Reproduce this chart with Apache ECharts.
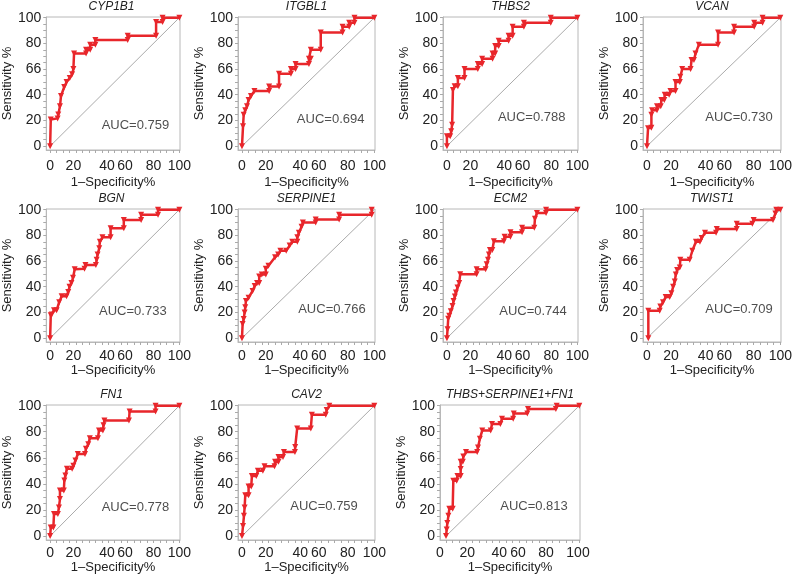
<!DOCTYPE html>
<html lang="en">
<head>
    <meta charset="UTF-8">
    <title>ROC curves</title>
    <script src="https://cdn.jsdelivr.net/npm/echarts@6/dist/echarts.min.js"></script>
    <style>
        html, body { margin: 0; padding: 0; background: #fff; }
        #chart { width: 795px; height: 575px; }
    </style>
</head>
<body>
<div id="chart"></div>
<script type="text/javascript">
    // panel names and AUC values
    var genes = ['CYP1B1', 'ITGBL1', 'THBS2', 'VCAN', 'BGN', 'SERPINE1', 'ECM2', 'TWIST1', 'FN1', 'CAV2', 'THBS+SERPINE1+FN1'];
    var aucValues = ['0.759', '0.694', '0.788', '0.730', '0.733', '0.766', '0.744', '0.709', '0.778', '0.759', '0.813'];

    // ROC vertices [1-specificity %, sensitivity %]
    var cyp1b1 = [[0,0],[0.5,20.8],[5.8,21.6],[6.3,24.7],[7.6,31],[8.4,39],[10.9,46],[12.7,50],[15.2,53],[17,56],[18,60],[18.5,72],
        [27.8,72],[27.8,75],[31,75],[31,79],[35,79],[35,82.6],[60,82.6],[60,86],[82,86],[82,96.6],[87,96.6],[87,100],[100,100]];
    var itgbl1 = [[0,0],[0.8,15.4],[1.3,24.4],[2.5,28],[3.8,31],[5,36],[6.8,39],[9.4,43],[20.5,43],[20.5,46.4],[28,46.4],[28,56.4],
        [37,56.4],[37,60],[40.5,60],[40.5,64],[50.6,64],[50.6,68],[52,68],[52,75],[59.5,75],[59.5,88.5],[76,88.5],[76,93],[81,93],
        [81,96],[85,96],[85,100],[100,100]];
    var thbs2 = [[0,0],[0,7.7],[2.5,7.7],[3.3,11.5],[4,16.7],[4.6,43.6],[5.9,46.7],[8.4,46.7],[8.4,53],[13.5,53],[13.5,60],[23.7,60],
        [23.7,64],[27,64],[27,68],[35,68],[35,72],[37,72],[37,78],[39.7,78],[39.7,82],[47.3,82],[47.3,86],[50.4,86],[50.4,93],[59,93],
        [59,96],[79.6,96],[79.6,100],[100,100]];
    var vcan = [[0,0],[0.8,14],[3.3,14.4],[3.3,24.4],[3.8,28],[7.5,28],[7.5,31],[10.3,31],[10.8,36],[13,36],[13.3,40],[16.6,40],
        [17.6,43],[21.4,43],[21.4,50],[24.6,50],[25,54],[26.4,60],[32.7,60],[33.4,67],[35.2,67],[36.4,72],[38.9,79],[53.3,79],
        [53.3,88.5],[65.3,88.5],[65.3,93],[80.4,93],[80.4,96],[86.7,96],[86.7,100],[100,100]];
    var bgn = [[0,0],[0.5,17.9],[1.3,18.4],[3,21.7],[5,21.7],[7,28],[8.9,32.6],[12.7,32.6],[14,36],[15,40],[16.5,43],[17.7,47],
        [19,53.6],[26.6,54],[27.3,57],[35.4,57],[36,61],[36.7,65],[38,70],[38.5,75],[40.5,78.6],[46.8,78.6],[46.8,85.5],[57,85.5],
        [57,92],[70.4,92],[70.4,96],[83.5,96],[83.5,100],[100,100]];
    var serpine1 = [[0,0],[0.5,11],[1.3,14.9],[2,20],[2.5,24],[3,29],[5,31.5],[8,36.7],[9.6,40.5],[11.4,43],[13,43],[13,48],[15,49.5],
        [18,49.5],[18,54],[20,56.4],[25,63],[27.3,65],[29,68],[33.4,68],[36,72],[38,75],[41.8,75],[41.8,78.5],[43,82],[45,86.7],
        [46,90],[55.7,90],[55.7,92.3],[73.4,92.3],[73.4,96],[98,96],[98,100]];
    var ecm2 = [[0,0],[0.5,7],[1,15],[1.8,17.5],[3,21],[4.3,25],[5.1,29],[6.1,32.5],[6.9,35.6],[8.1,39.4],[9.4,43],[10.2,49.7],
        [22.8,49.7],[22.8,53.6],[29.7,53.6],[30.5,57.5],[31.5,61],[32.2,65],[33,68.6],[34.8,68.6],[36,75.5],[43.7,75.5],[44.2,79],
        [48.7,79],[48.7,82.5],[57.6,82.5],[57.6,86],[67,86],[67.5,93],[69,97.4],[76,97.4],[76,100],[100,100]];
    var twist1 = [[1,0],[1,21.3],[9.5,21.3],[10,24.6],[12,28],[14,32],[17,32],[18.3,35],[19.6,40],[20.8,44],[21.6,49.5],[22.6,53],
        [24.6,55],[25,61],[32,61],[34,68],[36.7,75],[39.7,75],[41,78],[43.5,82],[51.8,82],[52.3,85],[67.3,85],[67.3,89],[79,89],
        [80,92],[94.5,92],[96.3,97],[97,100],[100,100]];
    var fn1 = [[0,0],[0.5,6.5],[2.5,6.5],[3,17],[6,17],[6.8,22],[7.6,28.4],[7.6,35],[10.6,35],[11,42.6],[11.8,46.5],[13,51.7],
        [17,51.7],[18,54],[19.6,58],[21.4,63],[27,63],[27.7,67],[29.5,70.5],[30.7,75],[37,75],[37.8,81],[40.8,81],[41.3,85],
        [42,88.6],[61,88.6],[61.5,95.6],[81.6,95.6],[81.6,100],[100,100]];
    var cav2 = [[0,0],[0.8,7.7],[1.5,15.5],[2,22],[2.5,31.4],[5,31.4],[5,38],[7,38],[7.5,46],[10.8,46],[12,50],[15.8,50],[17,53.6],
        [24.6,53.6],[25,57],[27.6,57],[27.6,60.6],[31,60.6],[31.7,64.4],[40,64.4],[40.2,68.3],[41.7,82.5],[52,82.5],[52.8,93],
        [63.3,93],[64,96.6],[66,100],[100,100]];
    var combined = [[0,0],[0.5,5],[1,10],[1.8,15.5],[2.5,21],[5,21],[5.5,42.5],[8,42.5],[8.6,46],[11,46],[11,51.5],[11,57],[12.6,57],
        [13,61],[15,64.4],[23.4,64.4],[24,68],[25.4,74.7],[27.2,81],[33.5,81],[34.5,86],[40.8,86],[42,90],[50.4,90],[50.8,94],
        [61,94],[61.5,97.4],[82.4,97.4],[83,100],[100,100]];
    var curves = [cyp1b1, itgbl1, thbs2, vcan, bgn, serpine1, ecm2, twist1, fn1, cav2, combined];

    // tick labels (values where the labels sit, and what they read)
    var yTickValues = [0, 20, 40, 60, 80, 100];
    var yTickLabels = ['0', '20', '40', '66', '80', '100'];
    var xTickValues = [0, 18, 44, 58, 80, 100];
    var xTickValuesLast = [-4.5, 16, 40, 54, 75, 99];
    var xTickLabels = ['0', '20', '40', '60', '80', '100'];

    // layout
    var colLeft = [43, 238, 443, 643];
    var colWidth = [137, 137, 135, 138];
    var rowTop = [17, 209, 405];
    var rowHeight = [133, 133, 135];
    var xLabelMargin = [9, 7, 6];
    var xNameGap = [26, 22, 19];
    var aucAt = [[66,16],[67,21],[65,22],[69,22],[64,21],[68,22],[66,21],[69,22],[66,22],[62,23],[66,23]];

    var font = "'Liberation Sans', Arial, sans-serif";
    var red = '#e8262b';
    var frame = '#b8b8b8';

    var minorTicks = [];
    for (var t = 0; t <= 100; t += 5) minorTicks.push(t);

    function labelFor(values, labels) {
        return function (v) {
            var best = 0;
            for (var k = 1; k < values.length; k++) {
                if (Math.abs(values[k] - v) < Math.abs(values[best] - v)) best = k;
            }
            return labels[best];
        };
    }

    var grids = [], titles = [], xAxes = [], yAxes = [], series = [];

    genes.forEach(function (name, i) {
        var row = Math.floor(i / 4), col = i % 4;
        var left = colLeft[col], width = colWidth[col];
        var xMin = -3, xVals = xTickValues;
        if (i === 10) { left = 440; width = 140; xMin = -4.5; xVals = xTickValuesLast; }

        grids.push({
            left: left, top: rowTop[row], width: width, height: rowHeight[row],
            show: true, borderColor: frame, borderWidth: 1
        });
        titles.push({
            text: name, left: left + width / 2, top: rowTop[row] - 16, textAlign: 'center', padding: 0,
            textStyle: {fontStyle: 'italic', fontWeight: 'normal', fontSize: 12, color: '#222', fontFamily: font}
        });
        xAxes.push({
            type: 'value', gridIndex: i, min: xMin, max: 100.5,
            name: '1\u2013Specificity%', nameLocation: 'middle', nameGap: xNameGap[row],
            nameTextStyle: {fontSize: 13, color: '#222', fontFamily: font},
            axisLine: {show: true, onZero: false, lineStyle: {color: frame}},
            axisTick: {show: true, customValues: minorTicks, length: 3, lineStyle: {color: '#aaa'}},
            axisLabel: {customValues: xVals, formatter: labelFor(xVals, xTickLabels), fontSize: 14, color: '#222', fontFamily: font, margin: xLabelMargin[row]},
            splitLine: {show: false}
        });
        yAxes.push({
            type: 'value', gridIndex: i, min: -3, max: 100.5,
            name: 'Sensitivity %', nameLocation: 'middle', nameGap: 30,
            nameTextStyle: {fontSize: 13, color: '#222', fontFamily: font},
            axisLine: {show: true, onZero: false, lineStyle: {color: frame}},
            axisTick: {show: true, customValues: minorTicks, length: 3, lineStyle: {color: '#aaa'}},
            axisLabel: {customValues: yTickValues, formatter: labelFor(yTickValues, yTickLabels), fontSize: 14, color: '#222', fontFamily: font, margin: 5},
            splitLine: {show: false}
        });

        // reference diagonal
        series.push({
            type: 'line', xAxisIndex: i, yAxisIndex: i, data: [[0, 0], [100, 100]],
            symbol: 'none', silent: true, z: 1,
            lineStyle: {color: '#aaaaaa', width: 1}
        });
        // ROC curve
        series.push({
            type: 'line', xAxisIndex: i, yAxisIndex: i, data: curves[i],
            symbol: 'triangle', symbolRotate: 180, symbolSize: 6, z: 3,
            itemStyle: {color: red}, lineStyle: {color: red, width: 2.5}
        });
        // AUC text
        series.push({
            type: 'scatter', xAxisIndex: i, yAxisIndex: i, data: [aucAt[i]],
            symbol: 'circle', symbolSize: 1, silent: true, itemStyle: {color: 'rgba(0,0,0,0)'},
            label: {show: true, position: 'inside', formatter: 'AUC=' + aucValues[i], fontSize: 13, color: '#222', fontFamily: font}
        });
    });

    var myChart = echarts.init(document.getElementById('chart'));
    myChart.setOption({
        animation: false,
        title: titles,
        grid: grids,
        xAxis: xAxes,
        yAxis: yAxes,
        series: series
    });
</script>
</body>
</html>
